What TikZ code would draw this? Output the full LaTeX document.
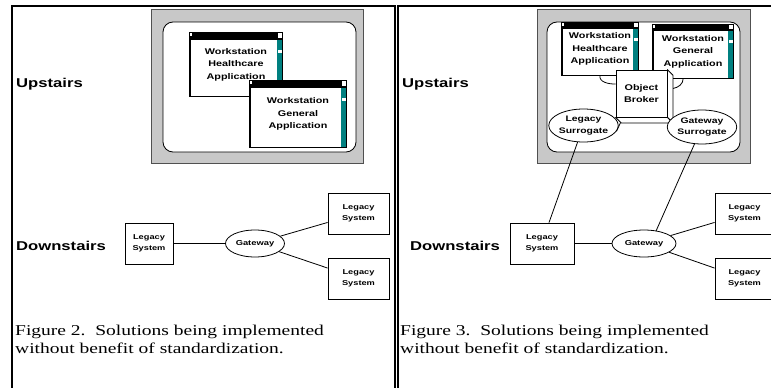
\documentclass[tikz,border=0pt]{standalone}
\usepackage{fontspec}
\newfontfamily\labfont{Liberation Sans}[FakeStretch=1.3]
\newfontfamily\capfont{Liberation Serif}[FakeStretch=1.3]
\usetikzlibrary{shapes.geometric,calc}
\pgfdeclarelayer{bg}
\pgfsetlayers{bg,main}
\definecolor{panelgray}{RGB}{200,200,200}
\definecolor{graybord}{RGB}{80,80,80}
\definecolor{scrollteal}{RGB}{0,128,128}
\tikzset{
 lab/.style={font=\labfont\bfseries\fontsize{8.3}{12.5}\selectfont, align=center},
 winbox/.style={draw, fill=white, line width=0.8pt, inner sep=0pt, lab},
 sysbox/.style={draw, fill=white, line width=0.8pt, inner sep=0pt, align=center, font=\labfont\bfseries\fontsize{7.1}{10.5}\selectfont},
 oval/.style={ellipse, draw, fill=white, line width=0.8pt, inner sep=0pt, align=center},
 smallfont/.style={font=\labfont\bfseries\fontsize{7.2}{10}\selectfont},
 midfont/.style={font=\labfont\bfseries\fontsize{8}{11.5}\selectfont},
 floorlabel/.style={anchor=base west, inner sep=0pt, font=\labfont\bfseries\fontsize{12.8}{15}\selectfont},
 captext/.style={anchor=base west, inner sep=0pt, font=\capfont\fontsize{15}{18}\selectfont},
 conn/.style={line width=0.8pt},
 framel/.style={line width=2pt},
}
\newcommand{\winparts}[2]{%
 \fill[black] (#1.north west) rectangle ($(#1.north east)+(0,#2)$);
 \filldraw[fill=white,draw=black,line width=0.3pt] (#1.north west) rectangle ++(3,4);
 \filldraw[fill=white,draw=black,line width=0.3pt] ($(#1.north east)+(-5,0)$) rectangle ++(5,#2-1);
 \fill[scrollteal] ($(#1.north east)+(-5,#2)$) rectangle (#1.south east);
 \fill[white] ($(#1.north east)+(-4,2*#2+3)$) rectangle ++(4,3);
 \draw[line width=0.8pt] (#1.north west) rectangle (#1.south east);
}
\begin{document}
\begin{tikzpicture}[x=1pt,y=-1pt]
\useasboundingbox (0,0) rectangle (771,388);
% panel frames
\draw[framel] (12,388) -- (12,6) -- (395,6) -- (395,388);
\draw[framel] (398,388) -- (398,6) -- (771,6);

% ===== Left panel =====
\filldraw[fill=panelgray, draw=graybord, line width=0.8pt] (151,9) rectangle (363,163);
\filldraw[fill=white, draw=black, line width=0.8pt, rounded corners=10pt] (163,22) rectangle (356,152);
\node[floorlabel] (up1) at (16,87) {Upstairs};
\node[winbox, minimum width=92pt, minimum height=63pt] (hwin1) at (236,64.5) {Workstation\\Healthcare\\Application};
\winparts{hwin1}{7}
\node[winbox, minimum width=96pt, minimum height=66pt] (gwin1) at (298,114) {Workstation\\General\\Application};
\winparts{gwin1}{7}

\node[floorlabel] (dn1) at (16,250) {Downstairs};
\node[sysbox, minimum width=48pt, minimum height=41pt] (ll1) at (149,243.5) {Legacy\\System};
\node[oval, smallfont, minimum width=59pt, minimum height=27pt] (gwy1) at (255,243.5) {Gateway};
\node[sysbox, minimum width=61pt, minimum height=41pt] (lt1) at (358.5,213.5) {Legacy\\System};
\node[sysbox, minimum width=61pt, minimum height=41pt] (lb1) at (358.5,278.5) {Legacy\\System};
\draw[conn] (ll1) -- (gwy1);
\draw[conn] (gwy1) -- (lt1);
\draw[conn] (gwy1) -- (lb1);

\node[captext] (cap1a) at (15,335) {Figure 2.\ \ Solutions being implemented};
\node[captext] (cap1b) at (15,353) {without benefit of standardization.};

% ===== Right panel =====
\begin{pgfonlayer}{bg}
\filldraw[fill=panelgray, draw=graybord, line width=0.8pt] (537,9) rectangle (750,163);
\filldraw[fill=white, draw=black, line width=0.8pt, rounded corners=10pt] (547,22) rectangle (740,152);
\end{pgfonlayer}
\node[floorlabel] (up2) at (402,87) {Upstairs};
\node[winbox, minimum width=76pt, minimum height=52pt] (hwin2) at (600,49) {Workstation\\Healthcare\\Application};
\winparts{hwin2}{6}
\node[winbox, minimum width=80pt, minimum height=53pt] (gwin2) at (693,51.5) {Workstation\\General\\Application};
\winparts{gwin2}{6}
\node[draw, fill=white, line width=0.8pt, inner sep=0pt, lab, minimum width=51pt, minimum height=47pt] (ob) at (641.5,93.5) {Object\\Broker};
\filldraw[fill=white, draw=black, line width=0.8pt, line join=round] (ob.north east) -- ++(5.5,5.5) -- ($(ob.south east)+(5.5,5.5)$) -- (ob.south east) -- cycle;
\filldraw[fill=white, draw=black, line width=0.8pt, line join=round] (ob.south west) -- ++(5.5,5.5) -- ($(ob.south east)+(5.5,5.5)$) -- (ob.south east) -- cycle;
\node[oval, midfont, minimum width=59pt, minimum height=33pt] (ls) at (583.5,125.5) {Legacy\\Surrogate};
\node[oval, midfont, minimum width=60pt, minimum height=34pt] (gs) at (702,127) {Gateway\\Surrogate};
\begin{pgfonlayer}{bg}
\draw[conn] (hwin2.south) to[out=-100,in=180] (ob.160);
\draw[conn] (gwin2.-110) to[out=-90,in=10] ($(ob.east)+(5.5,-5)$);
\draw[conn] (ls.-10) -- ($(ob.south west)+(5,5)$);
\draw[conn] (gs.170) to[out=150,in=-30] ($(ob.south east)+(5.5,5.5)$);
\end{pgfonlayer}

\node[floorlabel] (dn2) at (410,250) {Downstairs};
\node[sysbox, minimum width=64pt, minimum height=41pt] (ll2) at (542,243.5) {Legacy\\System};
\node[oval, smallfont, minimum width=64pt, minimum height=27pt] (gwy2) at (644,243.5) {Gateway};
\node[sysbox, minimum width=59pt, minimum height=41pt] (lt2) at (744.5,213.5) {Legacy\\System};
\node[sysbox, minimum width=59pt, minimum height=41pt] (lb2) at (744.5,278.5) {Legacy\\System};
\draw[conn] (ll2) -- (gwy2);
\draw[conn] (gwy2) -- (lt2);
\draw[conn] (gwy2) -- (lb2);
\draw[conn] (ls) -- ($(ll2.north)+(7,0)$);
\draw[conn] (gs) -- ($(gwy2.north)+(12,1.5)$);

\node[captext] (cap2a) at (400,335) {Figure 3.\ \ Solutions being implemented};
\node[captext] (cap2b) at (400,353) {without benefit of standardization.};
\end{tikzpicture}
\end{document}
